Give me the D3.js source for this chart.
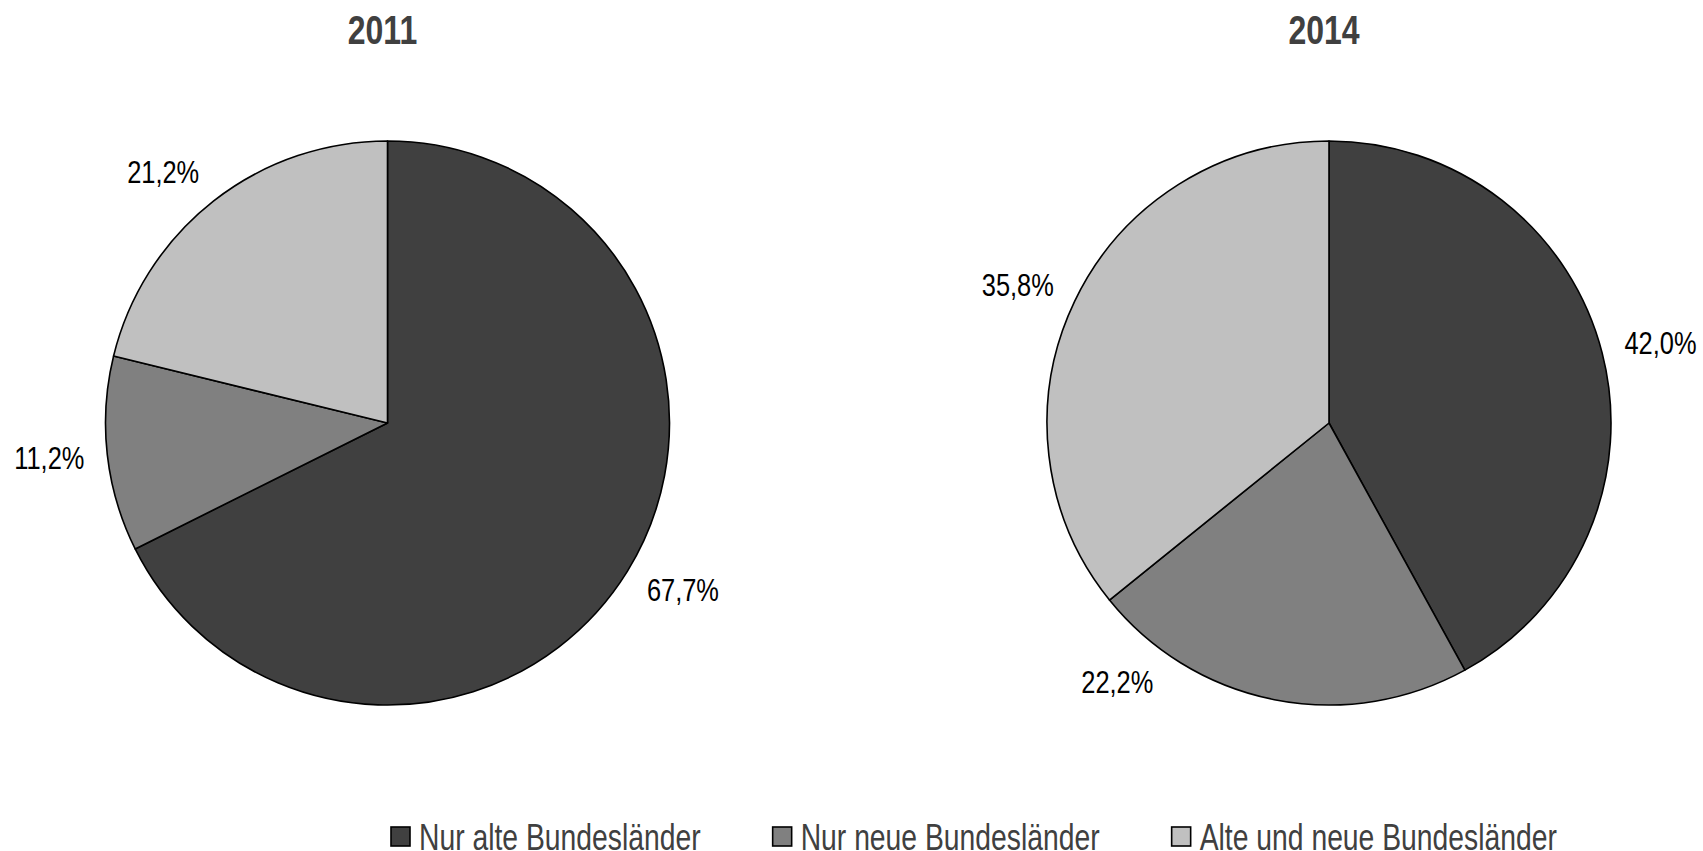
<!DOCTYPE html>
<html>
<head>
<meta charset="utf-8">
<script src="https://cdn.jsdelivr.net/npm/d3@7/dist/d3.min.js"></script>
<style>
  html, body { margin: 0; padding: 0; background: #fff; }
  svg { display: block; }
  text { font-family: "Liberation Sans", Arial, sans-serif; }
</style>
</head>
<body>
<svg id="chart" width="1703" height="851"></svg>
<script>
// ---- data ----
const categories = ["Nur alte Bundesländer", "Nur neue Bundesländer", "Alte und neue Bundesländer"];
const years = ["2011", "2014"];
const values2011 = [67.7, 11.2, 21.2];
const values2014 = [42.0, 22.2, 35.8];
const labels2011 = ["67,7%", "11,2%", "21,2%"];
const labels2014 = ["42,0%", "22,2%", "35,8%"];

// ---- layout / style ----
const W = 1703, H = 851;
const colors = ["#404040", "#808080", "#c0c0c0"];
const pieCentersX = [387.5, 1329];
const pieCenterY = 423;
const radius = 282;
const labelRadius = 305;     // distance of the label box edge from the pie centre
const labelHalfH = 13;
// extra angular shift (degrees) applied to some labels, as in the original layout
const labelShiftDeg = [[0, 0, 0], [0, 24, 0]];

const svg = d3.select("#chart");

// mimic a condensed typeface by compressing glyphs horizontally
function condense(sel, factor) {
  sel.each(function() {
    const w = this.getComputedTextLength();
    d3.select(this).attr("textLength", w * factor).attr("lengthAdjust", "spacingAndGlyphs");
  });
}

const series = [
  { year: years[0], values: values2011, labels: labels2011 },
  { year: years[1], values: values2014, labels: labels2014 }
];

const pie = d3.pie().sort(null).value(d => d);
const arc = d3.arc().innerRadius(0).outerRadius(radius);

series.forEach((s, i) => {
  const g = svg.append("g").attr("transform", `translate(${pieCentersX[i]},${pieCenterY})`);
  const arcs = pie(s.values);
  g.selectAll("path").data(arcs).join("path")
    .attr("d", arc)
    .attr("fill", (d, j) => colors[j])
    .attr("stroke", "#000")
    .attr("stroke-width", 1.6)
    .attr("stroke-linejoin", "round");

  const lbl = g.selectAll("text.lbl").data(arcs).join("text")
    .attr("class", "lbl")
    .attr("text-anchor", "middle")
    .attr("dominant-baseline", "central")
    .attr("font-size", 31)
    .attr("fill", "#000")
    .text((d, j) => s.labels[j]);
  condense(lbl, 0.82);
  lbl.each(function(d, j) {
    const a = (d.startAngle + d.endAngle) / 2 + labelShiftDeg[i][j] * Math.PI / 180;
    const w = +d3.select(this).attr("textLength");
    const sx = Math.sin(a), cy = Math.cos(a);
    const x = labelRadius * sx + Math.sign(sx) * w / 2;
    const y = -(labelRadius + labelHalfH) * cy;
    d3.select(this).attr("x", x).attr("y", y);
  });

  const title = svg.append("text")
    .attr("x", pieCentersX[i] - 5)
    .attr("y", 44)
    .attr("text-anchor", "middle")
    .attr("font-size", 41)
    .attr("font-weight", "bold")
    .attr("fill", "#404040")
    .text(s.year);
  condense(title, 0.78);
});

// ---- legend ----
const legend = svg.append("g");
let lx = 391;
const gap = 72;
categories.forEach((c, j) => {
  legend.append("rect")
    .attr("x", lx).attr("y", 827)
    .attr("width", 19).attr("height", 19)
    .attr("fill", colors[j])
    .attr("stroke", "#000").attr("stroke-width", 1.6);
  const t = legend.append("text")
    .attr("x", lx + 28).attr("y", 850)
    .attr("font-size", 37)
    .attr("fill", "#404040")
    .text(c);
  condense(t, 0.765);
  const w = +t.attr("textLength");
  lx = lx + 28 + w + gap;
});
</script>
</body>
</html>
